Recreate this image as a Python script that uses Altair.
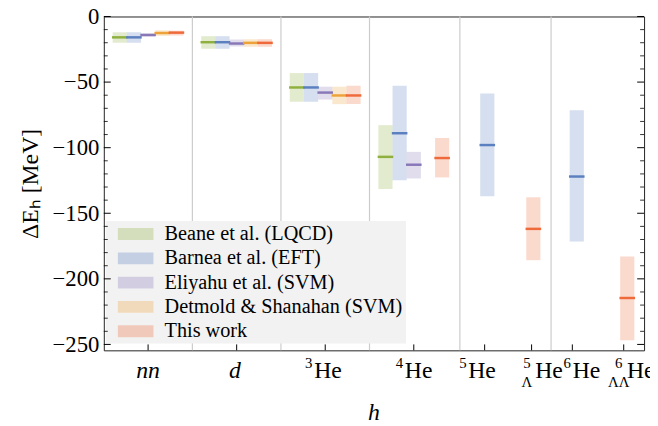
import altair as alt
import pandas as pd

# ---------------- data ----------------
groups = ["nn", "d", "3He", "4He", "5He", "5LHe", "6He", "6LLHe"]
group_pos = [0.0, 1.0, 2.0, 3.0, 3.83, 4.35, 4.84, 5.41]      # box centres
tick_pos = [0.0, 1.0, 2.0, 3.0, 3.80, 4.33, 4.79, 5.37]       # x tick marks
separators = [0.5, 1.5, 2.5, 3.52, 4.55]

label_main = ["nn", "d", "He", "He", "He", "He", "He", "He"]
label_sup = ["", "", "3", "4", "5", "5", "6", "6"]
label_sub = ["", "", "", "", "", "Λ", "", "ΛΛ"]
label_anchor = [0.0, 0.98, 1.876, 2.899, 3.615, 4.370, 4.794, 5.407]

studies = ["Beane et al. (LQCD)", "Barnea et al. (EFT)", "Eliyahu et al. (SVM)",
           "Detmold & Shanahan (SVM)", "This work"]
colors = ["#8fb03e", "#5b7fbf", "#8878b8", "#eda23a", "#ef6a3a"]

beane_g = ["nn", "d", "3He", "4He"]
beane_mid = [-15.9, -19.6, -54.1, -107.0]
beane_lo = [-20.0, -24.6, -65.0, -131.5]
beane_hi = [-12.0, -15.0, -43.1, -82.8]

barnea_g = ["nn", "d", "3He", "4He", "5He", "6He"]
barnea_mid = [-15.9, -19.6, -54.1, -89.0, -98.0, -122.0]
barnea_lo = [-20.0, -24.6, -65.0, -124.8, -137.0, -171.5]
barnea_hi = [-12.0, -15.0, -43.1, -52.7, -58.7, -71.5]

eliyahu_g = ["nn", "d", "3He", "4He"]
eliyahu_mid = [-14.1, -20.6, -58.0, -113.0]
eliyahu_lo = [-15.3, -22.8, -63.3, -123.5]
eliyahu_hi = [-12.8, -17.6, -53.5, -103.2]

detmold_g = ["nn", "d", "3He"]
detmold_mid = [-12.6, -20.1, -60.2]
detmold_lo = [-14.8, -23.1, -66.8]
detmold_hi = [-10.5, -17.3, -53.5]

this_g = ["nn", "d", "3He", "4He", "5LHe", "6LLHe"]
this_mid = [-12.3, -20.1, -60.2, -107.9, -161.9, -214.6]
this_lo = [-14.5, -23.1, -66.8, -122.7, -185.8, -246.8]
this_hi = [-10.8, -17.3, -52.7, -92.6, -137.8, -183.0]

y_major = [0, -50, -100, -150, -200, -250]
y_minor = [-10, -20, -30, -40, -60, -70, -80, -90, -110, -120, -130, -140,
           -160, -170, -180, -190, -210, -220, -230, -240]

# ---------------- build tables ----------------
W, H = 547, 338
SLOT = 0.16
HALF = 0.08
crowded = {"nn", "d", "3He", "4He"}
pos = dict(zip(groups, group_pos))

rows = []
series = [(beane_g, beane_mid, beane_lo, beane_hi),
          (barnea_g, barnea_mid, barnea_lo, barnea_hi),
          (eliyahu_g, eliyahu_mid, eliyahu_lo, eliyahu_hi),
          (detmold_g, detmold_mid, detmold_lo, detmold_hi),
          (this_g, this_mid, this_lo, this_hi)]
for si, (gs, mids, los, his) in enumerate(series):
    for g, m, lo, hi in zip(gs, mids, los, his):
        xc = pos[g] + ((si - 2) * SLOT if g in crowded else 0.0)
        rows.append(dict(study=studies[si], group=g, mid=m, lo=lo, hi=hi,
                         x1=xc - HALF, x2=xc + HALF,
                         lx1=xc - HALF - 0.008, lx2=xc + HALF + 0.008))
df = pd.DataFrame(rows)

labels = pd.DataFrame(dict(x=label_anchor, main=label_main, sup=label_sup, sub=label_sub))
ticks_df = pd.DataFrame(dict(t=tick_pos))
sep_df = pd.DataFrame(dict(s=separators))
ymaj = pd.DataFrame(dict(v=y_major))
ymin = pd.DataFrame(dict(v=y_minor))

xs = alt.Scale(domain=[-0.5, 5.6], nice=False, zero=False)
ys = alt.Scale(domain=[-254.5, 0], nice=False, zero=False)
cs = alt.Scale(domain=studies, range=colors)
FONT = "Liberation Serif"

# ---------------- layers ----------------
seps = alt.Chart(sep_df).mark_rule(color="#cccccc", strokeWidth=1.2).encode(
    x=alt.X("s:Q", scale=xs, axis=None), y=alt.value(0), y2=alt.value(H))

legend_bg = alt.Chart(sep_df.head(1)).mark_rect(fill="#f2f2f2").encode(
    x=alt.value(2), x2=alt.value(306), y=alt.value(207), y2=alt.value(331))

boxes = alt.Chart(df).mark_rect(fillOpacity=0.25, strokeWidth=0).encode(
    x=alt.X("x1:Q", scale=xs, axis=None), x2="x2:Q",
    y=alt.Y("lo:Q", scale=ys,
            axis=alt.Axis(values=y_major, ticks=False, domain=False, grid=False,
                          labelFont=FONT, labelFontSize=23, labelColor="black",
                          labelPadding=5, title="ΔEₕ [MeV]", titleFont=FONT,
                          titleFontSize=24, titleFontWeight="normal",
                          titleColor="black", titlePadding=10)),
    y2="hi:Q",
    fill=alt.Color("study:N", scale=cs, sort=studies,
                   legend=alt.Legend(orient="none", legendX=16, legendY=204, title=None,
                                     padding=6, symbolType="M-3,-1H3V1H-3Z",
                                     symbolSize=144, symbolOpacity=0.3,
                                     symbolStrokeWidth=0, labelFont=FONT,
                                     labelFontSize=20.5, labelColor="black",
                                     labelOffset=19, rowPadding=3.6, labelLimit=500)))

lines = alt.Chart(df).mark_rule(strokeWidth=2.5).encode(
    x=alt.X("lx1:Q", scale=xs, axis=None), x2="lx2:Q",
    y=alt.Y("mid:Q", scale=ys),
    stroke=alt.Color("study:N", scale=cs, legend=None))

tick_l_maj = alt.Chart(ymaj).mark_rule(color="black", strokeWidth=1).encode(
    y=alt.Y("v:Q", scale=ys), x=alt.value(0), x2=alt.value(7))
tick_r_maj = alt.Chart(ymaj).mark_rule(color="black", strokeWidth=1).encode(
    y=alt.Y("v:Q", scale=ys), x=alt.value(W - 7), x2=alt.value(W))
tick_l_min = alt.Chart(ymin).mark_rule(color="black", strokeWidth=0.8).encode(
    y=alt.Y("v:Q", scale=ys), x=alt.value(0), x2=alt.value(4))
tick_r_min = alt.Chart(ymin).mark_rule(color="black", strokeWidth=0.8).encode(
    y=alt.Y("v:Q", scale=ys), x=alt.value(W - 4), x2=alt.value(W))
tick_b = alt.Chart(ticks_df).mark_rule(color="black", strokeWidth=1).encode(
    x=alt.X("t:Q", scale=xs, axis=None), y=alt.value(H), y2=alt.value(H - 6))

base_lab = alt.Chart(labels)
lab_it = base_lab.transform_filter("datum.sup == ''").mark_text(
    font=FONT, fontSize=24, fontStyle="italic", align="center", baseline="alphabetic",
    color="black").encode(x=alt.X("x:Q", scale=xs, axis=None), y=alt.value(H + 28), text="main:N")
lab_he = base_lab.transform_filter("datum.sup != ''").mark_text(
    font=FONT, fontSize=24, align="left", baseline="alphabetic",
    color="black").encode(x=alt.X("x:Q", scale=xs, axis=None), y=alt.value(H + 28), text="main:N")
lab_sup1 = base_lab.transform_filter("datum.sup != '' && datum.sub == ''").mark_text(
    font=FONT, fontSize=15, align="center", baseline="alphabetic", dx=-5.5,
    color="black").encode(x=alt.X("x:Q", scale=xs, axis=None), y=alt.value(H + 18), text="sup:N")
lab_sup2 = base_lab.transform_filter("datum.sub != ''").mark_text(
    font=FONT, fontSize=15, align="center", baseline="alphabetic", dx=-8.3,
    color="black").encode(x=alt.X("x:Q", scale=xs, axis=None), y=alt.value(H + 18), text="sup:N")
lab_sub = base_lab.transform_filter("datum.sub != ''").mark_text(
    font=FONT, fontSize=15, align="center", baseline="alphabetic", dx=-8.3,
    color="black").encode(x=alt.X("x:Q", scale=xs, axis=None), y=alt.value(H + 37), text="sub:N")
x_title = alt.Chart(labels.head(1)).mark_text(
    font=FONT, fontSize=24, fontStyle="italic", align="center", baseline="alphabetic",
    color="black").encode(x=alt.value(W / 2), y=alt.value(H + 71), text=alt.value("h"))

chart = alt.layer(
    seps, legend_bg, boxes, lines,
    tick_l_maj, tick_r_maj, tick_l_min, tick_r_min, tick_b,
    lab_it, lab_he, lab_sup1, lab_sup2, lab_sub, x_title
).resolve_scale(fill="independent", stroke="independent").properties(
    width=W, height=H,
    autosize=alt.AutoSizeParams(type="none"),
    padding={"left": 97, "top": 6, "right": 6, "bottom": 74},
).configure_view(stroke="#222222", strokeWidth=1)

chart.save("out.html", embed_options={"renderer": "svg", "actions": False})
